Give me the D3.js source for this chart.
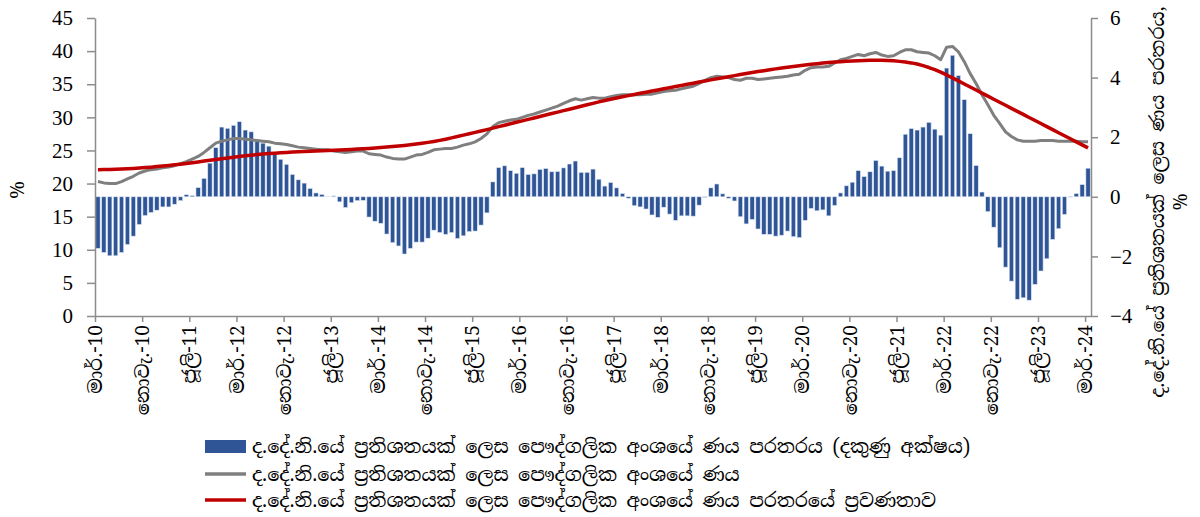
<!DOCTYPE html>
<html lang="si">
<head>
<meta charset="UTF-8">
<title>පෞද්ගලික අංශයේ ණය පරතරය</title>
<script src="https://cdn.jsdelivr.net/npm/d3@7"></script>
<style>
  body { margin: 0; background: #fff; }
  svg text { font-family: "Iskoola Pota", "Noto Serif Sinhala", "Noto Sans Sinhala", "Liberation Serif", "Times New Roman", serif; fill: #000; }
</style>
</head>
<body>
<div id="chart"></div>
<script>
// monthly data, Mar-2010 .. Mar-2024
const months = d3.timeMonth.range(new Date(2010, 2, 1), new Date(2024, 3, 1));

// x axis labels, one every 8 months
const tickLabels = ["මාර්.-10", "නොවැ.-10", "ජූලි-11", "මාර්.-12", "නොවැ.-12", "ජූලි-13",
  "මාර්.-14", "නොවැ.-14", "ජූලි-15", "මාර්.-16", "නොවැ.-16", "ජූලි-17", "මාර්.-18",
  "නොවැ.-18", "ජූලි-19", "මාර්.-20", "නොවැ.-20", "ජූලි-21", "මාර්.-22", "නොවැ.-22",
  "ජූලි-23", "මාර්.-24"];
const tickStep = 8;

// credit gap, % of GDP (right axis)
const gap = [
  -1.73, -1.87, -1.98, -1.98, -1.87, -1.60, -1.32, -0.93, -0.63, -0.53, -0.45, -0.34,
  -0.34, -0.25, -0.13, 0.07, 0.04, 0.31, 0.62, 1.13, 1.65, 2.34, 2.30, 2.40,
  2.52, 2.24, 2.18, 1.85, 1.80, 1.70, 1.42, 1.26, 1.09, 0.75, 0.57, 0.46,
  0.28, 0.13, 0.08, 0.01, 0.03, -0.17, -0.36, -0.20, -0.13, -0.12, -0.68, -0.82,
  -0.89, -1.25, -1.54, -1.65, -1.92, -1.73, -1.52, -1.52, -1.39, -1.12, -1.20, -1.26,
  -1.20, -1.40, -1.31, -1.17, -1.15, -0.95, -0.54, 0.50, 0.98, 1.04, 0.88, 0.79,
  0.98, 0.75, 0.77, 0.92, 0.95, 0.84, 0.85, 0.97, 1.10, 1.20, 0.82, 0.82,
  0.93, 0.59, 0.36, 0.48, 0.30, 0.11, -0.05, -0.30, -0.34, -0.41, -0.61, -0.69,
  -0.35, -0.58, -0.79, -0.64, -0.64, -0.65, -0.28, -0.02, 0.30, 0.43, 0.10, -0.05,
  -0.14, -0.67, -0.91, -0.76, -1.08, -1.26, -1.26, -1.32, -1.29, -1.15, -1.34, -1.37,
  -0.79, -0.39, -0.47, -0.44, -0.64, -0.29, 0.13, 0.37, 0.49, 0.88, 0.68, 0.84,
  1.22, 1.03, 0.86, 0.88, 1.31, 2.10, 2.29, 2.24, 2.34, 2.50, 2.27, 2.07,
  4.32, 4.75, 4.07, 3.26, 2.12, 1.05, 0.16, -0.50, -1.02, -1.71, -2.36, -2.83,
  -3.44, -3.39, -3.47, -2.94, -2.49, -2.08, -1.43, -1.07, -0.59, -0.01, 0.11, 0.41,
  0.96
];

// private sector credit, % of GDP (left axis)
const credit = [
  20.3, 20.1, 20.0, 20.0, 20.3, 20.7, 21.1, 21.6, 21.9, 22.1, 22.2, 22.4,
  22.5, 22.7, 23.0, 23.3, 23.7, 24.1, 24.7, 25.4, 26.1, 26.4, 26.6, 26.8,
  26.8, 26.7, 26.6, 26.5, 26.4, 26.3, 26.1, 26.0, 25.9, 25.7, 25.5, 25.4,
  25.3, 25.2, 25.1, 25.1, 24.9, 24.8, 24.7, 24.8, 24.9, 24.9, 24.5, 24.4,
  24.3, 24.0, 23.8, 23.7, 23.7, 24.0, 24.3, 24.4, 24.7, 25.1, 25.2, 25.3,
  25.3, 25.5, 25.8, 26.0, 26.3, 26.8, 27.5, 28.6, 29.2, 29.4, 29.6, 29.7,
  30.0, 30.3, 30.5, 30.8, 31.1, 31.4, 31.7, 32.1, 32.5, 32.8, 32.6, 32.8,
  33.0, 32.9, 32.9, 33.1, 33.3, 33.4, 33.4, 33.4, 33.4, 33.5, 33.5, 33.7,
  33.9, 34.0, 34.1, 34.3, 34.5, 34.7, 35.1, 35.6, 36.0, 36.2, 36.1, 36.0,
  35.7, 35.6, 35.9, 35.9, 35.7, 35.8, 35.9, 36.0, 36.1, 36.2, 36.4, 36.5,
  37.1, 37.5, 37.6, 37.6, 37.7, 38.2, 38.7, 38.9, 39.2, 39.5, 39.3, 39.6,
  39.8, 39.4, 39.2, 39.3, 39.8, 40.2, 40.2, 39.9, 39.8, 39.7, 39.3, 38.7,
  40.6, 40.7, 39.9, 38.4, 36.6, 35.1, 33.4, 31.9, 30.3, 29.1, 27.8, 27.1,
  26.6, 26.4, 26.4, 26.4, 26.5, 26.5, 26.5, 26.4, 26.4, 26.4, 26.4, 26.3,
  26.3
];

// trend of credit, % of GDP (left axis)
const trend = [
  22.10, 22.12, 22.14, 22.17, 22.20, 22.24, 22.29, 22.35, 22.41, 22.48, 22.56, 22.64,
  22.73, 22.83, 22.93, 23.04, 23.15, 23.27, 23.39, 23.51, 23.63, 23.75, 23.87, 23.98,
  24.09, 24.19, 24.29, 24.38, 24.46, 24.53, 24.59, 24.65, 24.70, 24.75, 24.79, 24.83,
  24.87, 24.91, 24.95, 24.99, 25.03, 25.07, 25.11, 25.15, 25.20, 25.25, 25.31, 25.37,
  25.44, 25.51, 25.59, 25.67, 25.76, 25.86, 25.97, 26.09, 26.22, 26.36, 26.52, 26.70,
  26.90, 27.10, 27.31, 27.52, 27.73, 27.94, 28.15, 28.37, 28.59, 28.81, 29.03, 29.25,
  29.47, 29.69, 29.91, 30.13, 30.35, 30.57, 30.79, 31.01, 31.23, 31.45, 31.67, 31.89,
  32.11, 32.33, 32.55, 32.74, 32.92, 33.10, 33.28, 33.46, 33.63, 33.80, 33.97, 34.14,
  34.31, 34.48, 34.65, 34.82, 34.99, 35.16, 35.33, 35.50, 35.66, 35.82, 35.98, 36.14,
  36.30, 36.46, 36.61, 36.76, 36.91, 37.05, 37.19, 37.32, 37.45, 37.57, 37.69, 37.80,
  37.91, 38.01, 38.10, 38.19, 38.27, 38.34, 38.41, 38.47, 38.52, 38.56, 38.59, 38.61,
  38.62, 38.61, 38.58, 38.53, 38.45, 38.35, 38.22, 38.06, 37.80, 37.52, 37.20, 36.82,
  36.40, 35.95, 35.50, 35.04, 34.58, 34.12, 33.66, 33.20, 32.74, 32.28, 31.82, 31.36,
  30.90, 30.44, 29.98, 29.52, 29.06, 28.60, 28.14, 27.68, 27.22, 26.76, 26.30, 25.84,
  25.38
];

const legendLabels = [
  "ද.දේ.නි.යේ ප්‍රතිශතයක් ලෙස පෞද්ගලික අංශයේ ණය පරතරය (දකුණු අක්ෂය)",
  "ද.දේ.නි.යේ ප්‍රතිශතයක් ලෙස පෞද්ගලික අංශයේ ණය",
  "ද.දේ.නි.යේ ප්‍රතිශතයක් ලෙස පෞද්ගලික අංශයේ ණය පරතරයේ ප්‍රවණතාව"
];

const width = 1200, height = 517;
const plot = { left: 95, right: 1091, top: 18, bottom: 316 };
const axisColor = "#8c8c8c";

const svg = d3.select("#chart").append("svg")
  .attr("width", width).attr("height", height);

// bars sit inside month slots, ticks at slot edges
const x = d3.scaleBand().domain(d3.range(months.length))
  .range([plot.left, plot.right]).paddingInner(0.26).paddingOuter(0.13);
const xTick = d3.scaleLinear().domain([0, months.length]).range([plot.left, plot.right]);
const cx = i => x(i) + x.bandwidth() / 2;

const yL = d3.scaleLinear().domain([0, 45]).range([plot.bottom, plot.top]);
const yR = d3.scaleLinear().domain([-4, 6]).range([plot.bottom, plot.top]);

// bars
svg.append("g").selectAll("rect").data(gap).join("rect")
  .attr("x", (d, i) => x(i))
  .attr("width", x.bandwidth())
  .attr("y", d => yR(Math.max(0, d)))
  .attr("height", d => Math.abs(yR(d) - yR(0)))
  .attr("fill", "#2f5597")
  .attr("stroke", "#dde6f3")
  .attr("stroke-width", 0.6);

// lines
const line = d3.line().x((d, i) => cx(i)).y(d => yL(d));
svg.append("path").datum(credit)
  .attr("d", line).attr("fill", "none")
  .attr("stroke", "#7f7f7f").attr("stroke-width", 3).attr("stroke-linejoin", "round");
svg.append("path").datum(trend)
  .attr("d", line).attr("fill", "none")
  .attr("stroke", "#c00000").attr("stroke-width", 3.5).attr("stroke-linejoin", "round");

// axes
const styleAxis = g => {
  g.selectAll("path, line").attr("stroke", axisColor).attr("stroke-width", 1.5);
  g.selectAll("text").attr("fill", "#000");
};

svg.append("g").attr("transform", `translate(${plot.left},0)`)
  .call(d3.axisLeft(yL).tickValues(d3.range(0, 46, 5)).tickSize(8).tickPadding(14).tickSizeOuter(0))
  .call(styleAxis)
  .call(g => g.selectAll("text").style("font-size", "21px").style("font-family", "Liberation Serif, serif"));

svg.append("g").attr("transform", `translate(${plot.right},0)`)
  .call(d3.axisRight(yR).tickValues(d3.range(-4, 7, 2)).tickSize(7).tickPadding(12).tickSizeOuter(0))
  .call(styleAxis)
  .call(g => g.selectAll("text").style("font-size", "21px").style("font-family", "Liberation Serif, serif"));

svg.append("g").attr("transform", `translate(0,${plot.bottom})`)
  .call(d3.axisBottom(xTick).tickValues(d3.range(0, months.length, tickStep))
    .tickFormat((d, i) => tickLabels[i]).tickSize(6).tickSizeOuter(0))
  .call(styleAxis)
  .call(g => g.selectAll("text")
    .attr("transform", "rotate(-90)")
    .attr("x", -9).attr("y", 0).attr("dy", "0.35em")
    .attr("text-anchor", "end")
    .style("font-size", "19px"));

// axis titles
svg.append("text")
  .attr("transform", "translate(24,190) rotate(-90)")
  .attr("text-anchor", "middle")
  .style("font-size", "20px")
  .text("%");

const rTitle = svg.append("text")
  .attr("transform", "translate(1164,202) rotate(-90)")
  .attr("text-anchor", "middle")
  .style("font-size", "19px");
rTitle.append("tspan").attr("x", 0).text("ද.දේ.නි.යේ ප්‍රතිශතයක් ලෙස ණය පරතරය,");
rTitle.append("tspan").attr("x", 0).attr("dy", "1.2em").text("%");

// legend
const legend = svg.append("g");
const rows = [446, 474, 500];
legend.append("rect").attr("x", 205).attr("y", rows[0] - 6).attr("width", 41).attr("height", 13)
  .attr("fill", "#2f5597");
legend.append("line").attr("x1", 205).attr("x2", 246).attr("y1", rows[1]).attr("y2", rows[1])
  .attr("stroke", "#7f7f7f").attr("stroke-width", 3.5);
legend.append("line").attr("x1", 205).attr("x2", 246).attr("y1", rows[2]).attr("y2", rows[2])
  .attr("stroke", "#c00000").attr("stroke-width", 3.5);
legend.selectAll("text").data(legendLabels).join("text")
  .attr("x", 252).attr("y", (d, i) => rows[i]).attr("dy", "0.35em")
  .style("font-size", "19px")
  .text(d => d);
</script>
</body>
</html>
